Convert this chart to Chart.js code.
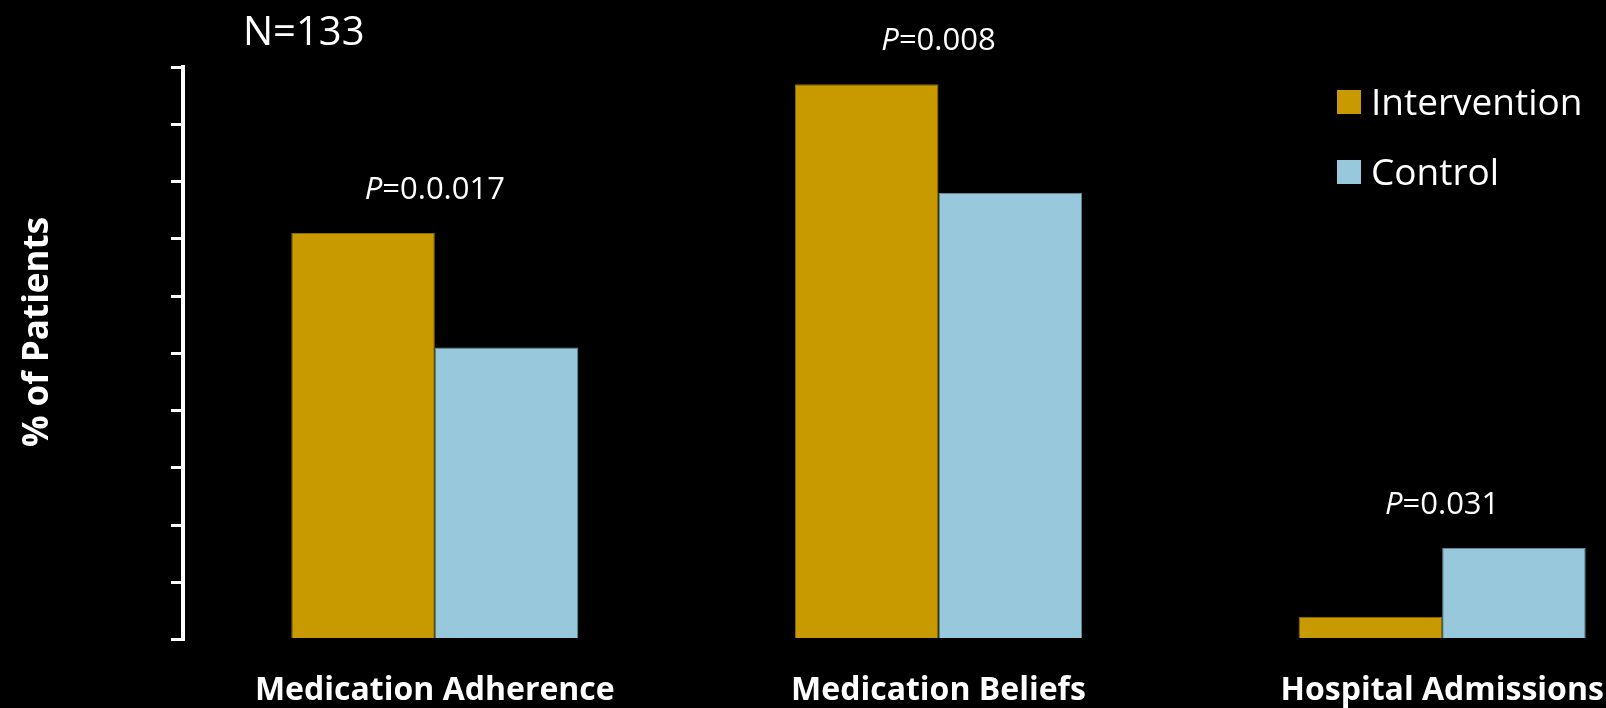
<!DOCTYPE html>
<html>
<head>
<meta charset="utf-8">
<script src="https://cdn.jsdelivr.net/npm/chart.js@4/dist/chart.umd.min.js"></script>
<style>
  html, body { margin: 0; padding: 0; background: #000; overflow: hidden; }
  #wrap { position: relative; width: 1700px; height: 708px; }
</style>
</head>
<body>
<div id="wrap"><canvas id="chartPatients"></canvas></div>
<script>
// outcome groups and % of patients per arm
const categories = ['Medication Adherence', 'Medication Beliefs', 'Hospital Admissions']
const intervention = [71, 97, 4]
const control = [51, 78, 16]
const pValues = ['0.0.017', '0.008', '0.031']
const sampleLabel = 'N=133'
const yTitle = '% of Patients'

const GOLD = '#c89a00'
const BLUE = '#98c8dc'

Chart.defaults.font.family = "'Open Sans', sans-serif"
Chart.defaults.color = '#fff'

// text that sits around the plot: N, axis title, P values and legend
const annotations = {
  id: 'annotations',
  afterDraw (chart) {
    const { ctx, chartArea, scales } = chart
    ctx.save()
    ctx.fillStyle = '#fff'

    ctx.font = "40px 'Open Sans'"
    ctx.textAlign = 'left'
    ctx.textBaseline = 'alphabetic'
    ctx.fillText(sampleLabel, chartArea.left + 60, 45)

    ctx.save()
    ctx.translate(38, 332)
    ctx.rotate(-Math.PI / 2)
    ctx.font = "bold 35px 'Open Sans'"
    ctx.textAlign = 'center'
    ctx.textBaseline = 'middle'
    ctx.fillText(yTitle, 0, 0)
    ctx.restore()

    // P values centred over each group, above the taller bar
    ctx.textAlign = 'left'
    categories.forEach((c, i) => {
      const top = Math.max(intervention[i], control[i])
      const x = scales.x.getPixelForValue(i)
      const y = scales.y.getPixelForValue(top) - 34
      ctx.font = "italic 31px 'Open Sans'"
      const wP = ctx.measureText('P').width
      ctx.font = "31px 'Open Sans'"
      const rest = '=' + pValues[i]
      const wR = ctx.measureText(rest).width
      const x0 = x - (wP + wR) / 2
      ctx.font = "italic 31px 'Open Sans'"
      ctx.fillText('P', x0, y)
      ctx.font = "31px 'Open Sans'"
      ctx.fillText(rest, x0 + wP, y)
    })

    // legend
    ctx.font = "37px 'Open Sans'"
    chart.data.datasets.forEach((ds, i) => {
      const y = 90 + i * 70
      ctx.fillStyle = ds.backgroundColor
      ctx.fillRect(1337, y, 24, 24)
      ctx.fillStyle = '#fff'
      ctx.fillText(ds.label, 1371, y + 25)
    })
    ctx.restore()
  }
}

const config = {
  type: 'bar',
  data: {
    labels: categories,
    datasets: [{
      label: 'Intervention',
      data: intervention,
      backgroundColor: GOLD,
      borderColor: '#8c6c00',
      borderWidth: 1,
      barPercentage: 1.0,
      categoryPercentage: 0.57
    }, {
      label: 'Control',
      data: control,
      backgroundColor: BLUE,
      borderColor: '#5f8796',
      borderWidth: 1,
      barPercentage: 1.0,
      categoryPercentage: 0.57
    }]
  },
  options: {
    responsive: true,
    maintainAspectRatio: false,
    animation: false,
    layout: {
      padding: { top: 67, left: 171, right: 6, bottom: -34 }
    },
    plugins: {
      legend: { display: false },
      tooltip: { enabled: false }
    },
    scales: {
      x: {
        grid: { display: false, drawTicks: false },
        border: { display: false },
        ticks: {
          color: '#fff',
          padding: 32,
          font: { size: 32, weight: 'bold' }
        }
      },
      y: {
        min: 0,
        max: 100,
        ticks: { display: false, stepSize: 10 },
        grid: {
          drawOnChartArea: false,
          drawTicks: true,
          tickLength: 12,
          lineWidth: 3,
          color: '#fff',
          tickColor: '#fff'
        },
        border: { display: true, color: '#fff', width: 4 }
      }
    }
  },
  plugins: [annotations]
}

window.patientsChart = new Chart(document.getElementById('chartPatients').getContext('2d'), config)
</script>
</body>
</html>
